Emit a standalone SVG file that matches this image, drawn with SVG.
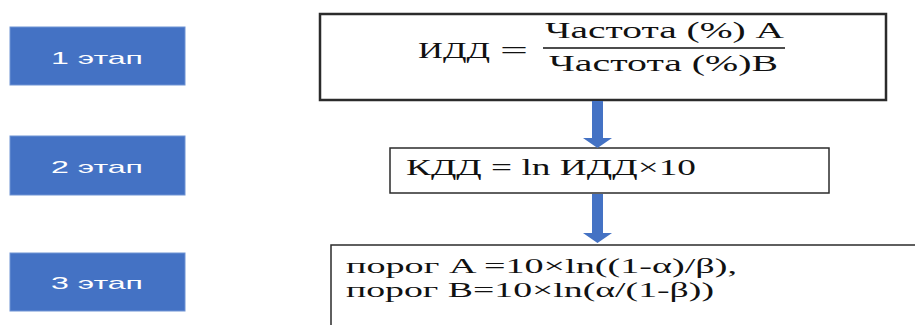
<svg xmlns="http://www.w3.org/2000/svg" width="915" height="325" viewBox="0 0 915 325">
  <style>
    .stage rect { fill: #4472C4; stroke: #6E93D4; stroke-width: 1; }
    .stage text { fill: #ffffff; font-family: "Liberation Sans", Arial, sans-serif; font-size: 17px; }
    .box { fill: #ffffff; stroke: #2b2b2b; }
    .math { fill: #111111; font-family: "Liberation Serif", "Times New Roman", serif; font-size: 23px; }
    .small { font-size: 21px; }
    .flow { fill: #4472C4; }
  </style>
  <rect width="915" height="325" fill="#ffffff"/>

  <!-- stage labels -->
  <g id="stage1" class="stage">
    <rect x="10" y="27" width="175" height="58"/>
    <text x="51" y="64" textLength="92" lengthAdjust="spacingAndGlyphs">1 этап</text>
  </g>
  <g id="stage2" class="stage">
    <rect x="10" y="136" width="175" height="59"/>
    <text x="51" y="173" textLength="92" lengthAdjust="spacingAndGlyphs">2 этап</text>
  </g>
  <g id="stage3" class="stage">
    <rect x="10" y="253" width="175" height="58"/>
    <text x="51" y="289" textLength="92" lengthAdjust="spacingAndGlyphs">3 этап</text>
  </g>

  <!-- step 1: index formula -->
  <g id="idd">
    <rect class="box" x="320" y="14" width="566" height="86" stroke-width="2.5"/>
    <text class="math" x="418" y="58" textLength="72" lengthAdjust="spacingAndGlyphs">ИДД</text>
    <text class="math" x="500" y="58" textLength="28" lengthAdjust="spacingAndGlyphs">=</text>
    <line x1="543" y1="48" x2="785" y2="48" stroke="#111111" stroke-width="1.5"/>
    <text class="math" x="545" y="38" textLength="239" lengthAdjust="spacingAndGlyphs">Частота (%) A</text>
    <text class="math" x="549" y="71" textLength="229" lengthAdjust="spacingAndGlyphs">Частота (%)B</text>
  </g>

  <!-- step 2 -->
  <g id="kdd">
    <rect class="box" x="390" y="148" width="439" height="45" stroke-width="1.5"/>
    <text class="math" x="406" y="175" textLength="290" lengthAdjust="spacingAndGlyphs">КДД = ln ИДД×10</text>
  </g>

  <!-- step 3 -->
  <g id="thresholds">
    <rect class="box" x="331" y="245" width="600" height="100" stroke-width="1.5"/>
    <text class="math small" x="346" y="273" textLength="391" lengthAdjust="spacingAndGlyphs">порог A =10×ln((1-α)/β),</text>
    <text class="math small" x="346" y="297" textLength="368" lengthAdjust="spacingAndGlyphs">порог B=10×ln(α/(1-β))</text>
  </g>

  <!-- connectors -->
  <g id="connectors" class="flow">
    <path d="M592 101 H603 V138 H612 L597.5 148 L583 138 H592 Z"/>
    <path d="M592 194 H603 V233 H612 L597.5 243 L583 233 H592 Z"/>
  </g>
</svg>
